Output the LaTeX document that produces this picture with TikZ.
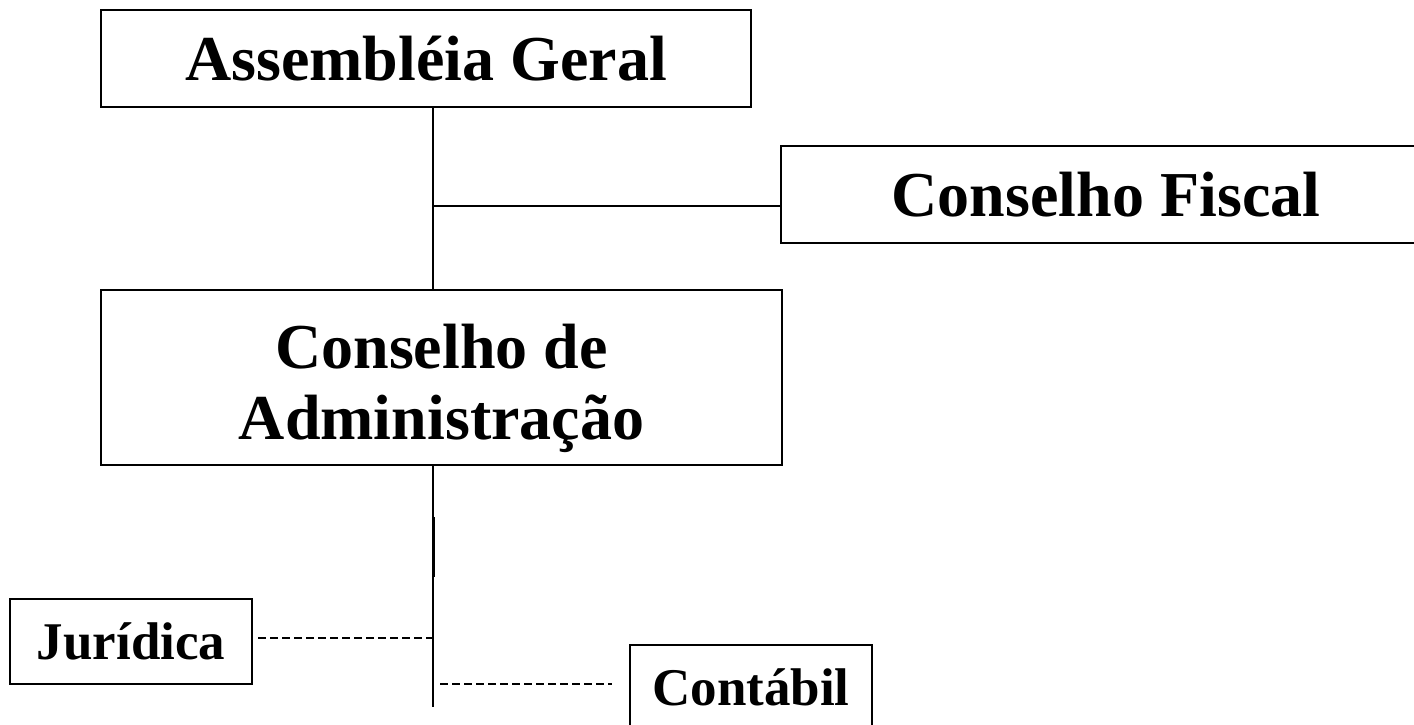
\documentclass[tikz,border=0pt]{standalone}
\usepackage{fontspec}
\setmainfont{Liberation Serif}
\usepackage{tikz}
\tikzset{
    box/.style={rectangle, draw, line width=2.2pt, inner sep=0pt,
    	align=center, font=\fontsize{64}{71}\selectfont\bfseries}
}
\tikzset{
    smallbox/.style={box, font=\fontsize{53}{60}\selectfont\bfseries},
    boxtext/.style={inner sep=0pt, align=center, font=\fontsize{64}{71}\selectfont\bfseries}
}
\tikzset{
	every edge/.append style={line width=2.2pt},
	staff/.style={dash pattern=on 7.5pt off 4.5pt, line width=1.4pt}
}

\begin{document}
\begin{tikzpicture}[x=1pt,y=-1pt]
	\useasboundingbox (0,0) rectangle (1414,725);
	\node (ag) [box, minimum width=650pt, minimum height=97pt] at (426,58.5) {Assembléia Geral};
	\node (cf) [box, minimum width=650pt, minimum height=97pt] at (1106,194.5) {Conselho Fiscal};
	\node (ca) [box, minimum width=681pt, minimum height=175pt] at (441.5,377.5) {};
	\node (ca-txt) [boxtext] at ([yshift=-11pt]ca.center) {Conselho de\\Administração};
	\node (jur) [smallbox, minimum width=242pt, minimum height=85pt] at (131,641.5) {Jurídica};
	\node (cont) [smallbox, minimum width=242pt, minimum height=85pt] at (751,687.5) {Contábil};

	\coordinate (t1) at (433,206);
	\coordinate (t2) at (433,638);
	\coordinate (t3) at (433,684);
	\coordinate (bot) at (433,707);

	\draw (ag.south -| t1) edge (ca.north -| t1);
	\draw (t1) edge (cf.west |- t1);
	\draw (ca.south -| bot) edge (bot);
	\draw (433,517) edge [line width=3pt] (433,577);
	\draw (jur.east |- t2) edge [staff, shorten <=5pt] (t2);
	\draw (t3) edge [staff, shorten <=7pt, shorten >=17pt] (cont.west |- t3);
\end{tikzpicture}
\end{document}
